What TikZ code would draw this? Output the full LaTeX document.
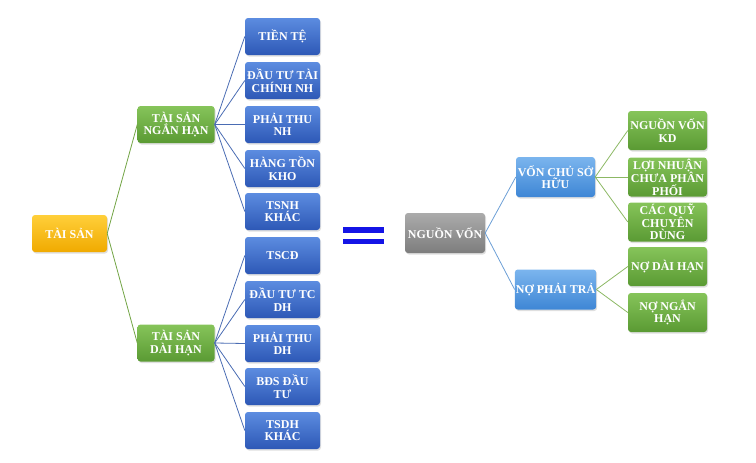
\documentclass[tikz,border=0pt]{standalone}
\usepackage{fontspec}
\setmainfont{Liberation Serif}
\usetikzlibrary{shadows}
\definecolor{ylT}{HTML}{FFCF3A}
\definecolor{ylB}{HTML}{F0AA00}
\definecolor{dbT}{HTML}{5C8CE0}
\definecolor{dbB}{HTML}{2D58B6}
\definecolor{dbE}{HTML}{3A5EA8}
\definecolor{gnT}{HTML}{86C45A}
\definecolor{gnB}{HTML}{5A9A33}
\definecolor{lbT}{HTML}{7BB5EE}
\definecolor{lbB}{HTML}{3E86D5}
\definecolor{gyT}{HTML}{ABABAB}
\definecolor{gyB}{HTML}{7D7D7D}
\definecolor{lnBlue}{HTML}{4A6CB3}
\definecolor{lnGreen}{HTML}{72A444}
\definecolor{lnLB}{HTML}{6C9FD6}
\definecolor{lnRG}{HTML}{8CB864}
\definecolor{eqBlue}{HTML}{1414E6}
\tikzset{
  box/.style={rounded corners=3pt, align=center, text=white,
    font=\fontsize{12}{12.5}\selectfont\bfseries, inner sep=1pt,
    drop shadow={shadow xshift=1pt, shadow yshift=-1.5pt, opacity=0.25}},
  ybox/.style={box, top color=ylT, bottom color=ylB, minimum width=75pt, minimum height=37pt},
  gbox/.style={box, top color=gnT, bottom color=gnB, minimum width=77pt, minimum height=37pt},
  bbox/.style={box, top color=dbT, bottom color=dbB, minimum width=75pt, minimum height=37pt},
  lbox/.style={box, top color=lbT, bottom color=lbB, minimum width=79pt, minimum height=40pt},
  graybox/.style={box, top color=gyT, bottom color=gyB, minimum width=80pt, minimum height=40pt},
  rgbox/.style={box, top color=gnT, bottom color=gnB, minimum width=79pt, minimum height=39pt},
  eblue/.style={draw=lnBlue, line width=0.8pt},
  egreen/.style={draw=lnGreen, line width=0.8pt},
  elb/.style={draw=lnLB, line width=0.8pt},
  erg/.style={draw=lnRG, line width=0.8pt},
}
\begin{document}
\begin{tikzpicture}[x=1pt,y=-1pt]
\useasboundingbox (0,0) rectangle (756,463);
% left tree
\node[ybox] (ts) at (69.5,233.5) {TÀI SẢN};
\node[gbox] (nh) at (176,124.5) {TÀI SẢN\\NGẮN HẠN};
\node[gbox] (dh) at (176,343) {TÀI SẢN\\DÀI HẠN};
\node[bbox] (b1) at (282.5,36.5) {TIỀN TỆ};
\node[bbox] (b2) at (282.5,80.5) {ĐẦU TƯ TÀI\\CHÍNH NH};
\node[bbox] (b3) at (282.5,124.5) {PHẢI THU\\NH};
\node[bbox] (b4) at (282.5,168.5) {HÀNG TỒN\\KHO};
\node[bbox] (b5) at (282.5,211.5) {TSNH\\KHÁC};
\node[bbox] (b6) at (282.5,255.5) {TSCĐ};
\node[bbox] (b7) at (282.5,299.5) {ĐẦU TƯ TC\\DH};
\node[bbox] (b8) at (282.5,343.5) {PHẢI THU\\DH};
\node[bbox] (b9) at (282.5,386.5) {BĐS ĐẦU\\TƯ};
\node[bbox] (b10) at (282.5,430.5) {TSDH\\KHÁC};
\begin{scope}[on background layer/.style={}]
\draw[egreen] (ts.east) -- (nh.west);
\draw[egreen] (ts.east) -- (dh.west);
\foreach \i in {1,...,5} {\draw[eblue] (nh.east) -- (b\i.west);}
\foreach \i in {6,...,10} {\draw[eblue] (dh.east) -- (b\i.west);}
\end{scope}
% equals sign
\fill[eqBlue] (343,227) rectangle (384,232.5);
\fill[eqBlue] (343,238.5) rectangle (384,244);
% right tree
\node[graybox] (nv) at (445,233) {NGUỒN VỐN};
\node[lbox] (vc) at (555.5,177) {VỐN CHỦ SỞ\\HỮU};
\node[lbox] (np) at (555.5,289.5) {NỢ PHẢI TRẢ};
\node[rgbox] (r1) at (667.5,130.5) {NGUỒN VỐN\\KD};
\node[rgbox] (r2) at (667.5,177) {LỢI NHUẬN\\CHƯA PHÂN\\PHỐI};
\node[rgbox] (r3) at (667.5,222) {CÁC QUỸ\\CHUYÊN\\DÙNG};
\node[rgbox] (r4) at (667.5,266.5) {NỢ DÀI HẠN};
\node[rgbox] (r5) at (667.5,312.5) {NỢ NGẮN\\HẠN};
\draw[elb] (nv.east) -- (vc.west);
\draw[elb] (nv.east) -- (np.west);
\foreach \i in {1,2,3} {\draw[erg] (vc.east) -- (r\i.west);}
\foreach \i in {4,5} {\draw[erg] (np.east) -- (r\i.west);}
\end{tikzpicture}
\end{document}
